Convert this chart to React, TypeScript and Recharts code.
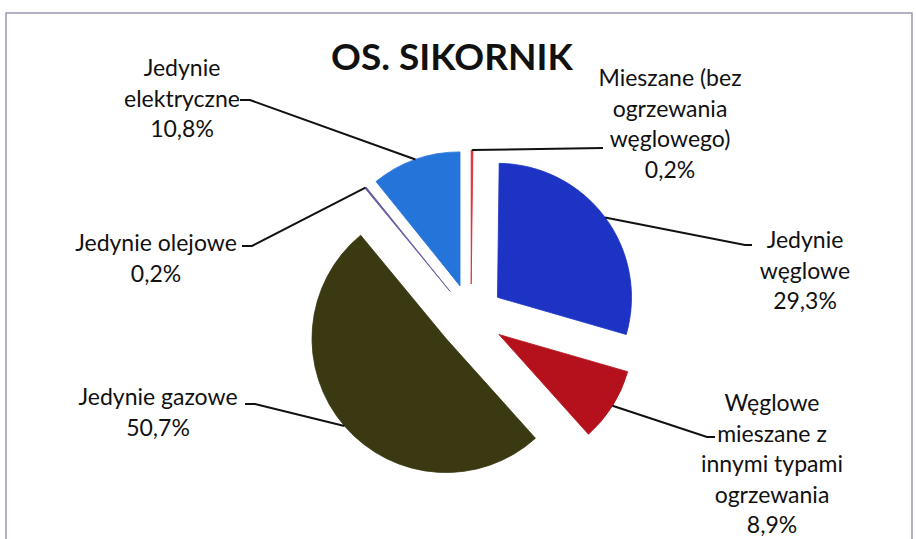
import { PieChart, Pie, Cell, Sector } from "recharts";

// kolejność zgodnie z ruchem wskazówek zegara od godz. 12
const categories = [
  "Mieszane (bez\nogrzewania\nwęglowego)",
  "Jedynie\nwęglowe",
  "Węglowe\nmieszane z\ninnymi typami\nogrzewania",
  "Jedynie gazowe",
  "Jedynie olejowe",
  "Jedynie\nelektryczne",
];
const shares = [0.2, 29.3, 8.9, 50.7, 0.2, 10.8];
const colors = ["#e0262e", "#1c33c4", "#b5111d", "#3a3912", "#6656a0", "#2474da"];

const data = categories.map((name, i) => ({ name, value: shares[i] }));

// rozmieszczenie etykiet: środek tekstu, pierwsza linia bazowa, łamanie linii odniesienia
const labelBoxes = [
  { x: 670, y: 86, elbow: [603, 148], end: [603, 148] },
  { x: 805, y: 248, elbow: [745, 245], end: [752, 245] },
  { x: 772, y: 411, elbow: [707, 437], end: [715, 437] },
  { x: 158, y: 405, elbow: [255, 404], end: [245, 404] },
  { x: 156, y: 251, elbow: [252, 246], end: [242, 246] },
  { x: 182, y: 76, elbow: [250, 100], end: [240, 100] },
];

const EXPLODE = 33;
const RAD = Math.PI / 180;
const LINE_H = 30.5;
const FONT = "Lato, 'Open Sans', sans-serif";

const offset = (midAngle: number) => [
  EXPLODE * Math.cos(-midAngle * RAD),
  EXPLODE * Math.sin(-midAngle * RAD),
];

function ExplodedSector(props: any) {
  const [dx, dy] = offset(props.midAngle);
  return <Sector {...props} cx={props.cx + dx} cy={props.cy + dy} />;
}

function SliceLabel(props: any) {
  const { cx, cy, midAngle, outerRadius, index, value } = props;
  const box = labelBoxes[index];
  const [dx, dy] = offset(midAngle);
  const sx = cx + dx + outerRadius * Math.cos(-midAngle * RAD);
  const sy = cy + dy + outerRadius * Math.sin(-midAngle * RAD);
  const lines = [...categories[index].split("\n"), `${String(value).replace(".", ",")}%`];
  return (
    <g>
      <polyline
        points={`${sx},${sy} ${box.elbow[0]},${box.elbow[1]} ${box.end[0]},${box.end[1]}`}
        fill="none"
        stroke="#111"
        strokeWidth={2}
      />
      <text x={box.x} y={box.y} textAnchor="middle" fontFamily={FONT} fontSize={23} fill="#111">
        {lines.map((l, i) => (
          <tspan key={i} x={box.x} y={box.y + i * LINE_H}>
            {l}
          </tspan>
        ))}
      </text>
    </g>
  );
}

export default function App() {
  return (
    <div style={{ position: "absolute", left: 0, top: 0, background: "#fff" }}>
      <PieChart width={916} height={539} margin={{ top: 0, right: 0, bottom: 0, left: 0 }}>
        <rect x={6} y={13} width={906} height={540} fill="#fff" stroke="#9a98b0" strokeWidth={1.5} />
        <text x={452} y={70} textAnchor="middle" fontFamily={FONT} fontWeight={700} fontSize={37} fill="#111">
          OS. SIKORNIK
        </text>
        <Pie
          data={data}
          dataKey="value"
          nameKey="name"
          cx={471}
          cy={317}
          outerRadius={134}
          startAngle={90}
          endAngle={-270}
          isAnimationActive={false}
          shape={(p: any) => <ExplodedSector {...p} />}
          label={(p: any) => <SliceLabel {...p} />}
          labelLine={false}
        >
          {data.map((d, i) => (
            <Cell key={d.name} fill={colors[i]} stroke={colors[i]} strokeWidth={0.8} />
          ))}
        </Pie>
      </PieChart>
    </div>
  );
}
